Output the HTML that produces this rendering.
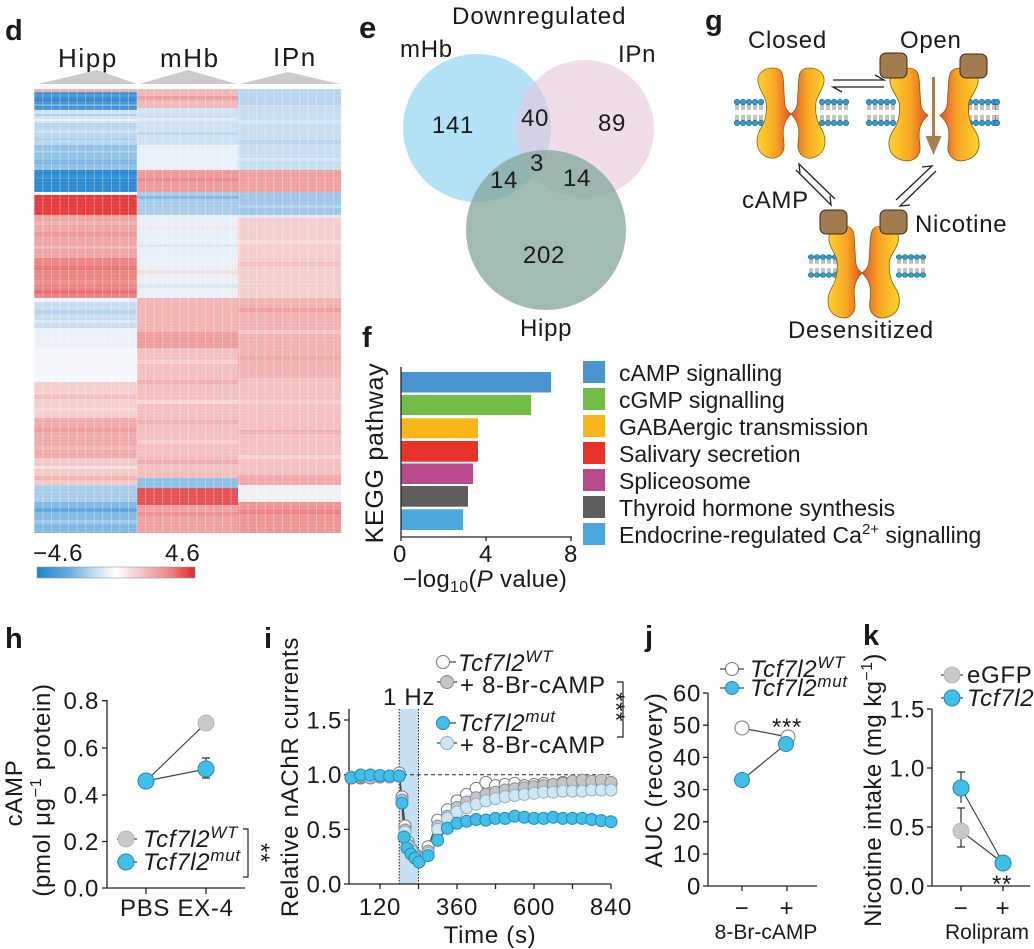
<!DOCTYPE html>
<html><head><meta charset="utf-8">
<style>
html,body{margin:0;padding:0;background:#fff;}
svg{display:block;}
text{font-family:"Liberation Sans",Arial,sans-serif;fill:#1a1a1a;}
.t{font-size:24px;letter-spacing:0.7px;}
.lg{font-size:23px;}
.b{font-weight:bold;font-size:29px;}
.it{font-style:italic;}
.ax{stroke:#222;stroke-width:1.3;fill:none;}
.dl{stroke:#444;stroke-width:1.2;fill:none;}
.mw{fill:#fff;stroke:#777;stroke-width:1;}
.mg{fill:#c6c6c9;stroke:#8a8a8a;stroke-width:1;}
.ml{fill:#cfe6f3;stroke:#8db0c6;stroke-width:1;}
.mb{fill:#3fbfea;stroke:#2789b0;stroke-width:1;}
.mgs{fill:#c9c9cc;stroke:#b0b0b0;stroke-width:0.8;}
</style></head><body>
<svg width="1034" height="949" viewBox="0 0 1034 949" xmlns="http://www.w3.org/2000/svg">
<defs>
<linearGradient id="cb" x1="0" x2="1" y1="0" y2="0">
<stop offset="0" stop-color="#1b87cf"/><stop offset="0.2" stop-color="#68acdd"/><stop offset="0.4" stop-color="#d5e7f4"/><stop offset="0.5" stop-color="#ffffff"/><stop offset="0.65" stop-color="#f4c8c8"/><stop offset="0.85" stop-color="#ec8282"/><stop offset="1" stop-color="#df272b"/>
</linearGradient>
<pattern id="cols" x="34" y="0" width="8.55" height="10" patternUnits="userSpaceOnUse">
<rect x="0" y="0" width="0.7" height="10" fill="#fff"/>
</pattern>
<pattern id="rows" x="0" y="89" width="10" height="3.3" patternUnits="userSpaceOnUse">
<rect x="0" y="0" width="10" height="0.4" fill="#fff"/>
</pattern>
<linearGradient id="chg" x1="0" x2="1" y1="0" y2="0">
<stop offset="0" stop-color="#fdd52c"/><stop offset="0.55" stop-color="#f7a523"/><stop offset="1" stop-color="#e6502b"/>
</linearGradient>
<path id="sub" fill="url(#chg)" stroke="#8a6410" stroke-width="0.8" d="M -18 0 C -28 0, -34 6, -33 14 C -32 22, -26 28, -25 34 C -24 42, -25 52, -30 60 C -36 70, -36 84, -24 89 C -14 93, -6 86, -7 76 C -8 66, -10 56, 0 46 C -8 40, -6 34, -7 24 C -8 10, -6 0, -18 0 Z"/>
<g id="lu">
<g stroke="#333" stroke-width="0.6"><line x1="-1" y1="2" x2="-1" y2="8"/><line x1="1" y1="2" x2="1" y2="8"/><line x1="-1" y1="13" x2="-1" y2="19"/><line x1="1" y1="13" x2="1" y2="19"/></g>
<circle cx="0" cy="0" r="2.7" fill="#2aa0d2" stroke="#155a7a" stroke-width="0.6"/><circle cx="0" cy="21" r="2.7" fill="#2aa0d2" stroke="#155a7a" stroke-width="0.6"/>
</g>
<g id="l5"><use href="#lu" x="0"/><use href="#lu" x="6"/><use href="#lu" x="12"/><use href="#lu" x="18"/><use href="#lu" x="24"/></g>
</defs>
<rect width="1034" height="949" fill="#fff"/>

<!-- ===== Panel d: heatmap ===== -->
<text class="b" x="5" y="40">d</text>
<text class="t" x="58" y="67" style="font-size:26px;letter-spacing:1.6px">Hipp</text>
<text class="t" x="160" y="67" style="font-size:26px;letter-spacing:1.6px">mHb</text>
<text class="t" x="273" y="66" style="font-size:26px;letter-spacing:1.6px">IPn</text>
<polygon points="38,84 97,70 137,84" fill="#cbcbcb"/>
<polygon points="139,84 188,70 237,84" fill="#cbcbcb"/>
<polygon points="240,84 288,72 340,84" fill="#cbcbcb"/>
<g>
<!-- Hipp x 34-137 -->
<g transform="translate(34,0)">
<rect y="89" width="103" height="3" fill="#eab0b4"/>
<rect y="92" width="103" height="18" fill="#4595d4"/>
<rect y="98" width="103" height="3" fill="#2f88cf"/>
<rect y="104" width="103" height="2" fill="#6aaedf"/>
<rect y="110" width="103" height="13" fill="#d0e3f2"/>
<rect y="114" width="103" height="2" fill="#a8cdea"/>
<rect y="119" width="103" height="2" fill="#eef3f8"/>
<rect y="123" width="103" height="22" fill="#b8d6ee"/>
<rect y="130" width="103" height="3" fill="#cbe0f1"/>
<rect y="138" width="103" height="2" fill="#a6cbea"/>
<rect y="145" width="103" height="25" fill="#8fc0e6"/>
<rect y="150" width="103" height="3" fill="#a2cbea"/>
<rect y="160" width="103" height="4" fill="#7db5e2"/>
<rect y="170" width="103" height="22" fill="#2a8ad0"/>
<rect y="176" width="103" height="3" fill="#3b93d4"/>
<rect y="192" width="103" height="3" fill="#f4f6f9"/>
<rect y="195" width="103" height="20" fill="#e63a3c"/>
<rect y="215" width="103" height="43" fill="#f0a4a4"/>
<rect y="222" width="103" height="3" fill="#f3b4b4"/>
<rect y="232" width="103" height="4" fill="#ee9898"/>
<rect y="246" width="103" height="3" fill="#f4b8b8"/>
<rect y="258" width="103" height="40" fill="#ec8484"/>
<rect y="266" width="103" height="4" fill="#e97474"/>
<rect y="280" width="103" height="4" fill="#ee8e8e"/>
<rect y="290" width="103" height="4" fill="#e86c6c"/>
<rect y="298" width="103" height="4" fill="#eef2f8"/>
<rect y="302" width="103" height="26" fill="#c8def0"/>
<rect y="310" width="103" height="4" fill="#b4d3ec"/>
<rect y="320" width="103" height="3" fill="#dce9f4"/>
<rect y="328" width="103" height="20" fill="#eaf1f8"/>
<rect y="348" width="103" height="34" fill="#f3f6fa"/>
<rect y="382" width="103" height="36" fill="#f5cece"/>
<rect y="395" width="103" height="4" fill="#f2bcbc"/>
<rect y="408" width="103" height="3" fill="#f7d8d8"/>
<rect y="418" width="103" height="40" fill="#f0aaaa"/>
<rect y="428" width="103" height="4" fill="#ee9c9c"/>
<rect y="446" width="103" height="4" fill="#f2b6b6"/>
<rect y="458" width="103" height="27" fill="#f4c8c8"/>
<rect y="466" width="103" height="3" fill="#f8e0e0"/>
<rect y="476" width="103" height="4" fill="#f0b0b0"/>
<rect y="485" width="103" height="17" fill="#a8cdea"/>
<rect y="502" width="103" height="31" fill="#80b9e3"/>
<rect y="508" width="103" height="4" fill="#5aa6dc"/>
<rect y="520" width="103" height="4" fill="#a0c8e8"/>
</g>
<!-- mHb x 137-238 -->
<g transform="translate(137,0)">
<rect y="89" width="101" height="19" fill="#f2b8b8"/>
<rect y="96" width="101" height="4" fill="#ee9e9e"/>
<rect y="108" width="101" height="37" fill="#cfe2f2"/>
<rect y="118" width="101" height="3" fill="#e0ecf6"/>
<rect y="132" width="101" height="3" fill="#bcd8ef"/>
<rect y="145" width="101" height="25" fill="#e8f0f8"/>
<rect y="170" width="101" height="22" fill="#ee9a9a"/>
<rect y="178" width="101" height="3" fill="#e98888"/>
<rect y="192" width="101" height="23" fill="#a8cdea"/>
<rect y="196" width="101" height="3" fill="#7fb8e3"/>
<rect y="215" width="101" height="43" fill="#e8eff7"/>
<rect y="226" width="101" height="3" fill="#f2e8ec"/>
<rect y="244" width="101" height="3" fill="#d8e7f4"/>
<rect y="258" width="101" height="40" fill="#ebeff6"/>
<rect y="270" width="101" height="4" fill="#f4dede"/>
<rect y="284" width="101" height="4" fill="#d6e6f4"/>
<rect y="298" width="101" height="34" fill="#f2b4b4"/>
<rect y="332" width="101" height="16" fill="#ee9c9c"/>
<rect y="348" width="101" height="130" fill="#f3bebe"/>
<rect y="360" width="101" height="4" fill="#f6d0d0"/>
<rect y="380" width="101" height="4" fill="#f0aeae"/>
<rect y="400" width="101" height="4" fill="#f7d6d6"/>
<rect y="420" width="101" height="4" fill="#f0b0b0"/>
<rect y="440" width="101" height="4" fill="#f6d0d0"/>
<rect y="460" width="101" height="4" fill="#efacac"/>
<rect y="478" width="101" height="10" fill="#8cc0e6"/>
<rect y="488" width="101" height="17" fill="#e65050"/>
<rect y="505" width="101" height="28" fill="#f0a0a0"/>
<rect y="512" width="101" height="4" fill="#ec8e8e"/>
</g>
<!-- IPn x 238-341 -->
<g transform="translate(238,0)">
<rect y="89" width="103" height="16" fill="#b8d4ee"/>
<rect y="105" width="103" height="65" fill="#c8ddf0"/>
<rect y="120" width="103" height="4" fill="#d6e6f4"/>
<rect y="140" width="103" height="4" fill="#b8d5ee"/>
<rect y="158" width="103" height="3" fill="#d8e7f4"/>
<rect y="170" width="103" height="22" fill="#f0a0a0"/>
<rect y="192" width="103" height="23" fill="#a0c6e8"/>
<rect y="205" width="103" height="3" fill="#b6d4ed"/>
<rect y="215" width="103" height="83" fill="#f3cece"/>
<rect y="215" width="103" height="3" fill="#e4e8f2"/>
<rect y="240" width="103" height="4" fill="#f6dada"/>
<rect y="262" width="103" height="4" fill="#f1c0c0"/>
<rect y="298" width="103" height="80" fill="#f1b2b2"/>
<rect y="308" width="103" height="4" fill="#ee9e9e"/>
<rect y="330" width="103" height="4" fill="#f4c4c4"/>
<rect y="356" width="103" height="4" fill="#efa8a8"/>
<rect y="378" width="103" height="97" fill="#f3c0c0"/>
<rect y="400" width="103" height="4" fill="#f5cccc"/>
<rect y="430" width="103" height="4" fill="#f0b0b0"/>
<rect y="455" width="103" height="4" fill="#f6d2d2"/>
<rect y="475" width="103" height="10" fill="#f0a8a8"/>
<rect y="485" width="103" height="17" fill="#eef0f6"/>
<rect y="502" width="103" height="31" fill="#ee9494"/>
<rect y="510" width="103" height="4" fill="#ea8080"/>
</g>
<rect x="34" y="89" width="307" height="444" fill="url(#cols)" opacity="0.45"/>
<rect x="34" y="89" width="307" height="444" fill="url(#rows)" opacity="0.2"/>
</g>
<text class="t" x="33" y="561">−4.6</text>
<text class="t" x="165" y="561">4.6</text>
<rect x="37" y="567" width="158" height="11" fill="url(#cb)" stroke="#8a9aaa" stroke-width="0.6"/>

<!-- ===== Panel e: Venn ===== -->
<text class="b" x="359" y="38" style="font-size:31px">e</text>
<text class="t" x="452" y="24" style="letter-spacing:1px">Downregulated</text>
<text class="t" x="400" y="57">mHb</text>
<text class="t" x="618" y="62">IPn</text>
<circle cx="477" cy="128" r="74" fill="#b3e1f6"/>
<circle cx="585" cy="129" r="69" fill="#e6c6da" opacity="0.6"/>
<circle cx="546" cy="230" r="80" fill="#83a599" opacity="0.75"/>
<g class="t" text-anchor="middle">
<text x="453" y="133">141</text>
<text x="535" y="126">40</text>
<text x="612" y="131">89</text>
<text x="537" y="171">3</text>
<text x="504" y="188">14</text>
<text x="577" y="186">14</text>
<text x="544" y="263">202</text>
</g>
<text class="t" x="520" y="336">Hipp</text>

<!-- ===== Panel g: schematic ===== -->
<text class="b" x="705" y="30">g</text>
<text class="t" x="748" y="48">Closed</text>
<text class="t" x="900" y="48">Open</text>
<text class="t" x="742" y="208">cAMP</text>
<text class="t" x="915" y="232">Nicotine</text>
<text class="t" x="788" y="338">Desensitized</text>
<use href="#l5" transform="translate(737,102)"/>
<use href="#l5" transform="translate(822,102)"/>
<use href="#l5" transform="translate(869,102)"/>
<use href="#l5" transform="translate(970,102)"/>
<use href="#lu" transform="translate(997,102)"/>
<use href="#l5" transform="translate(811,257) scale(1,0.86)"/>
<use href="#l5" transform="translate(899,257) scale(1,0.86)"/>
<use href="#sub" transform="translate(791,68)"/>
<use href="#sub" transform="translate(791,68) scale(-1,1)"/>
<use href="#sub" transform="translate(928,68) scale(1.15,1.03)"/>
<use href="#sub" transform="translate(940,68) scale(-1.15,1.03)"/>
<rect x="880" y="53" width="27" height="25" rx="6" fill="#a27b4f" stroke="#3a2a10" stroke-width="1"/>
<rect x="960" y="54" width="27" height="24" rx="6" fill="#a27b4f" stroke="#3a2a10" stroke-width="1"/>
<line x1="933.5" y1="77" x2="933.5" y2="140" stroke="#a8804f" stroke-width="3"/>
<polygon points="925.5,136 941.5,136 933.5,155" fill="#a8804f"/>
<use href="#sub" transform="translate(862,226) scale(1,1.02)"/>
<use href="#sub" transform="translate(862,226) scale(-1.1,1.02)"/>
<rect x="820" y="210" width="27" height="24" rx="6" fill="#a27b4f" stroke="#3a2a10" stroke-width="1"/>
<rect x="880" y="210" width="27" height="24" rx="6" fill="#a27b4f" stroke="#3a2a10" stroke-width="1"/>
<g stroke="#222" stroke-width="1.3" fill="none">
<path d="M833 80 L884 80 L875 75"/>
<path d="M884 87 L833 87 L842 92"/>
<path d="M835 199 L799 164 L800 173"/>
<path d="M796 170 L831 205 L830 196"/>
<path d="M896 200 L932 166 L922 167"/>
<path d="M936 171 L900 206 L910 205"/>
</g>

<!-- ===== Panel f: KEGG ===== -->
<text class="b" x="362" y="347">f</text>
<rect x="401" y="372" width="150" height="20.5" fill="#4a94d0"/>
<rect x="401" y="395" width="130" height="20" fill="#72bd45"/>
<rect x="401" y="418.3" width="77" height="20" fill="#f7b619"/>
<rect x="401" y="441" width="77" height="20.7" fill="#e83328"/>
<rect x="401" y="463.5" width="72" height="20.5" fill="#b94b8c"/>
<rect x="401" y="486" width="67" height="20.7" fill="#5e5e5e"/>
<rect x="401" y="509.3" width="62" height="20.7" fill="#4aa8de"/>
<path class="ax" d="M401 367 L401 537 L572 537 M401 537 L401 541 M486 537 L486 541 M571 537 L571 541"/>
<g class="t" text-anchor="middle">
<text x="400" y="562">0</text><text x="486" y="562">4</text><text x="571" y="562">8</text>
</g>
<text class="t" x="485" y="587" text-anchor="middle" style="letter-spacing:0.3px">−log<tspan font-size="16" dy="5">10</tspan><tspan dy="-5">(</tspan><tspan font-style="italic">P</tspan> value)</text>
<text class="t" transform="translate(383,453) rotate(-90)" text-anchor="middle" style="font-size:25px">KEGG pathway</text>
<rect x="583" y="361" width="22" height="22" fill="#4a94d0"/>
<rect x="583" y="388" width="22" height="22" fill="#72bd45"/>
<rect x="583" y="415" width="22" height="22" fill="#f7b619"/>
<rect x="583" y="442" width="22" height="22" fill="#e83328"/>
<rect x="583" y="469" width="22" height="22" fill="#b94b8c"/>
<rect x="583" y="496" width="22" height="22" fill="#5e5e5e"/>
<rect x="583" y="523" width="22" height="22" fill="#4aa8de"/>
<g class="lg">
<text x="619" y="381">cAMP signalling</text>
<text x="619" y="408">cGMP signalling</text>
<text x="619" y="435">GABAergic transmission</text>
<text x="619" y="462">Salivary secretion</text>
<text x="619" y="489">Spliceosome</text>
<text x="619" y="516">Thyroid hormone synthesis</text>
<text x="619" y="543">Endocrine-regulated Ca<tspan font-size="15" dy="-9">2+</tspan><tspan dy="9"> signalling</tspan></text>
</g>

<!-- ===== Panel h ===== -->
<text class="b" x="5" y="648">h</text>
<path class="ax" d="M107 700 L107 888 L245 888 M102 700.7 L107 700.7 M102 748 L107 748 M102 795 L107 795 M102 841.5 L107 841.5 M102 888 L107 888 M146 888 L146 894 M206 888 L206 894"/>
<g class="t" text-anchor="end">
<text x="99" y="709">0.8</text><text x="99" y="756.5">0.6</text><text x="99" y="803.5">0.4</text><text x="99" y="850">0.2</text><text x="99" y="896.5">0.0</text>
</g>
<text class="t" transform="translate(22,793) rotate(-90)" text-anchor="middle">cAMP</text>
<text class="t" transform="translate(50,790) rotate(-90)" text-anchor="middle">(pmol μg<tspan font-size="16" dy="-9">−1</tspan><tspan dy="9"> protein)</tspan></text>
<text class="t" x="120" y="916">PBS EX-4</text>
<line class="dl" x1="146" y1="781" x2="206" y2="723"/>
<line class="dl" x1="146" y1="781" x2="206" y2="769"/>
<path d="M206 758 L206 778 M202 758 L210 758 M202 778 L210 778" stroke="#333" stroke-width="1.2"/>
<circle class="mgs" cx="206" cy="723" r="8"/>
<circle class="mb" cx="206" cy="769" r="8"/>
<circle class="mb" cx="146" cy="781" r="8"/>
<line class="dl" x1="117" y1="839" x2="137" y2="839"/>
<circle class="mgs" cx="126" cy="839" r="8"/>
<line class="dl" x1="117" y1="862" x2="137" y2="862"/>
<circle class="mb" cx="126" cy="862" r="8"/>
<text class="t it" x="143" y="847">Tcf7l2<tspan font-size="17" dy="-9">WT</tspan></text>
<text class="t it" x="143" y="870">Tcf7l2<tspan font-size="17" dy="-9">mut</tspan></text>
<path d="M243 829 L248 829 L248 877 L243 877" stroke="#222" stroke-width="1.2" fill="none"/>
<text class="t" transform="translate(253,853) rotate(90)" text-anchor="middle">**</text>

<!-- ===== Panel i ===== -->
<text class="b" x="264" y="648">i</text>
<rect x="399.2" y="709" width="19.3" height="175" fill="#c6e0f1"/>
<path d="M399.2 709 L399.2 884 M418.5 709 L418.5 884" stroke="#222" stroke-width="1" stroke-dasharray="1.5,1.5"/>
<line x1="403" y1="774.7" x2="611" y2="774.7" stroke="#222" stroke-width="1" stroke-dasharray="4,3"/>
<path class="ax" d="M349 709 L349 884 L611 884 M344 720 L349 720 M344 774.7 L349 774.7 M344 829.4 L349 829.4 M344 884 L349 884 M380 884 L380 889 M418.5 884 L418.5 889 M457 884 L457 889 M495.5 884 L495.5 889 M534 884 L534 889 M572.5 884 L572.5 889 M611 884 L611 889"/>
<g class="t" text-anchor="end">
<text x="342" y="728.5">1.5</text><text x="342" y="783">1.0</text><text x="342" y="838">0.5</text><text x="342" y="892.5">0.0</text>
</g>
<g class="t" text-anchor="middle">
<text x="380" y="915">120</text><text x="457" y="915">360</text><text x="534" y="915">600</text><text x="611" y="915">840</text>
</g>
<text class="t" x="490" y="943" text-anchor="middle">Time (s)</text>
<text class="t" transform="translate(298,777) rotate(-90)" text-anchor="middle">Relative nAChR currents</text>
<text class="t" x="383" y="705">1 Hz</text>
<g class="dl" stroke-width="0.9">
<polyline points="351.1,777 360.7,778 370.4,777 380,777 389.6,777 399.2,774 402,797 405,826 408,842 412,850 416,855 420,858 428.1,846.8 437.7,820.1 447.4,809.7 457,800.9 466.6,794.4 476.2,788.4 485.9,782.4 495.5,785.6 505.1,784.5 514.7,783.4 524.4,785.6 534,784.5 543.6,783.4 553.2,784.5 562.9,782.4 572.5,783.4 582.1,782.4 591.7,783.4 601.3,782.4 611,783.4"/>
<polyline points="351.1,778 360.7,777 370.4,778 380,777 389.6,777 399.2,776 402,800 405,830 408,845 412,852 416,856 420,859 428.1,851.2 437.7,826.1 447.4,816.2 457,807.5 466.6,802 476.2,797.7 485.9,794.4 495.5,792.2 505.1,790 514.7,788.9 524.4,787.8 534,786.7 543.6,785.6 553.2,784.5 562.9,783.4 572.5,781.3 582.1,780.2 591.7,781.3 601.3,780.2 611,782.4"/>
<polyline points="402,803 404,837 407,848 411,854 415,858 419,862 428.1,855.6 437.7,840.3 447.4,828.3 457,823.3 466.6,821.2 476.2,819.5 485.9,820.1 495.5,818.4 505.1,818.4 514.7,816.2 524.4,817.3 534,818.4 543.6,818.4 553.2,817.3 562.9,818.4 572.5,818.4 582.1,818.4 591.7,819.5 601.3,820.6 611,821.7"/>
</g>
<g class="mw">
<circle cx="351.1" cy="777" r="6"/><circle cx="360.7" cy="778" r="6"/><circle cx="370.4" cy="777" r="6"/><circle cx="380" cy="777" r="6"/><circle cx="389.6" cy="777" r="6"/><circle cx="399.2" cy="773" r="6"/>
<circle cx="402" cy="797" r="6"/><circle cx="405" cy="826" r="6"/><circle cx="408" cy="842" r="6"/><circle cx="412" cy="850" r="6"/><circle cx="416" cy="855" r="6"/><circle cx="420" cy="858" r="6"/>
<circle cx="428.1" cy="846.8" r="6"/><circle cx="437.7" cy="820.1" r="6"/><circle cx="447.4" cy="809.7" r="6"/><circle cx="457" cy="800.9" r="6"/><circle cx="466.6" cy="794.4" r="6"/><circle cx="476.2" cy="788.4" r="6"/><circle cx="485.9" cy="782.4" r="6"/><circle cx="495.5" cy="785.6" r="6"/><circle cx="505.1" cy="784.5" r="6"/><circle cx="514.7" cy="783.4" r="6"/><circle cx="524.4" cy="785.6" r="6"/><circle cx="534" cy="784.5" r="6"/><circle cx="543.6" cy="783.4" r="6"/><circle cx="553.2" cy="784.5" r="6"/><circle cx="562.9" cy="782.4" r="6"/><circle cx="572.5" cy="783.4" r="6"/><circle cx="582.1" cy="782.4" r="6"/><circle cx="591.7" cy="783.4" r="6"/><circle cx="601.3" cy="782.4" r="6"/><circle cx="611" cy="783.4" r="6"/>
</g>
<g class="mg">
<circle cx="351.1" cy="778" r="6"/><circle cx="360.7" cy="777" r="6"/><circle cx="370.4" cy="778" r="6"/><circle cx="380" cy="777" r="6"/><circle cx="389.6" cy="777" r="6"/><circle cx="399.2" cy="776" r="6"/>
<circle cx="402" cy="800" r="6"/><circle cx="405" cy="830" r="6"/><circle cx="408" cy="845" r="6"/><circle cx="412" cy="852" r="6"/><circle cx="416" cy="856" r="6"/><circle cx="420" cy="859" r="6"/>
<circle cx="428.1" cy="851.2" r="6"/><circle cx="437.7" cy="826.1" r="6"/><circle cx="447.4" cy="816.2" r="6"/><circle cx="457" cy="807.5" r="6"/><circle cx="466.6" cy="802" r="6"/><circle cx="476.2" cy="797.7" r="6"/><circle cx="485.9" cy="794.4" r="6"/><circle cx="495.5" cy="792.2" r="6"/><circle cx="505.1" cy="790" r="6"/><circle cx="514.7" cy="788.9" r="6"/><circle cx="524.4" cy="787.8" r="6"/><circle cx="534" cy="786.7" r="6"/><circle cx="543.6" cy="785.6" r="6"/><circle cx="553.2" cy="784.5" r="6"/><circle cx="562.9" cy="783.4" r="6"/><circle cx="572.5" cy="781.3" r="6"/><circle cx="582.1" cy="780.2" r="6"/><circle cx="591.7" cy="781.3" r="6"/><circle cx="601.3" cy="780.2" r="6"/><circle cx="611" cy="782.4" r="6"/>
</g>
<g class="ml">
<circle cx="351.1" cy="777" r="6"/><circle cx="360.7" cy="776" r="6"/><circle cx="370.4" cy="777" r="6"/><circle cx="380" cy="776" r="6"/><circle cx="389.6" cy="777" r="6"/><circle cx="399.2" cy="776" r="6"/>
<circle cx="402" cy="801" r="6"/><circle cx="405" cy="832" r="6"/><circle cx="408" cy="846" r="6"/><circle cx="412" cy="852" r="6"/><circle cx="416" cy="857" r="6"/><circle cx="420" cy="860" r="6"/>
<circle cx="428.1" cy="853.4" r="6"/><circle cx="437.7" cy="829.4" r="6"/><circle cx="447.4" cy="818.4" r="6"/><circle cx="457" cy="811.9" r="6"/><circle cx="466.6" cy="807.5" r="6"/><circle cx="476.2" cy="804.2" r="6"/><circle cx="485.9" cy="800.9" r="6"/><circle cx="495.5" cy="798.7" r="6"/><circle cx="505.1" cy="796.6" r="6"/><circle cx="514.7" cy="795.5" r="6"/><circle cx="524.4" cy="794.4" r="6"/><circle cx="534" cy="793.3" r="6"/><circle cx="543.6" cy="792.2" r="6"/><circle cx="553.2" cy="792.2" r="6"/><circle cx="562.9" cy="791.1" r="6"/><circle cx="572.5" cy="791.1" r="6"/><circle cx="582.1" cy="791.1" r="6"/><circle cx="591.7" cy="790" r="6"/><circle cx="601.3" cy="790" r="6"/><circle cx="611" cy="790" r="6"/>
</g>
<g stroke="#333" stroke-width="1">
<path d="M476.2 815 v9 M485.9 815.6 v9 M495.5 813.9 v9 M505.1 813.9 v9 M514.7 811.7 v9 M524.4 812.8 v9 M534 813.4 v10 M543.6 813.4 v10 M553.2 812.3 v10 M562.9 813.4 v10 M572.5 813.4 v10 M582.1 813.4 v10 M591.7 814.5 v10 M601.3 815.6 v10 M611 816.7 v10"/>
<path d="M473.2 815 h6 M473.2 824 h6 M482.9 815.6 h6 M482.9 824.6 h6 M492.5 813.9 h6 M492.5 822.9 h6 M502.1 813.9 h6 M502.1 822.9 h6 M511.7 811.7 h6 M511.7 820.7 h6 M521.4 812.8 h6 M521.4 821.8 h6 M531 813.4 h6 M531 823.4 h6 M540.6 813.4 h6 M540.6 823.4 h6 M550.2 812.3 h6 M550.2 822.3 h6 M559.9 813.4 h6 M559.9 823.4 h6 M569.5 813.4 h6 M569.5 823.4 h6 M579.1 813.4 h6 M579.1 823.4 h6 M588.7 814.5 h6 M588.7 824.5 h6 M598.3 815.6 h6 M598.3 825.6 h6 M608 816.7 h6 M608 826.7 h6"/>
</g>
<g class="mb">
<circle cx="351.1" cy="778" r="6"/><circle cx="360.7" cy="775" r="6"/><circle cx="370.4" cy="775" r="6"/><circle cx="380" cy="775.5" r="6"/><circle cx="389.6" cy="776" r="6"/><circle cx="399.2" cy="776" r="6"/>
<circle cx="402" cy="803" r="6"/><circle cx="404" cy="837" r="6"/><circle cx="407" cy="848" r="6"/><circle cx="411" cy="854" r="6"/><circle cx="415" cy="858" r="6"/><circle cx="419" cy="862" r="6"/>
<circle cx="428.1" cy="855.6" r="6"/><circle cx="437.7" cy="840.3" r="6"/><circle cx="447.4" cy="828.3" r="6"/><circle cx="457" cy="823.3" r="6"/><circle cx="466.6" cy="821.2" r="6"/><circle cx="476.2" cy="819.5" r="6"/><circle cx="485.9" cy="820.1" r="6"/><circle cx="495.5" cy="818.4" r="6"/><circle cx="505.1" cy="818.4" r="6"/><circle cx="514.7" cy="816.2" r="6"/><circle cx="524.4" cy="817.3" r="6"/><circle cx="534" cy="818.4" r="6"/><circle cx="543.6" cy="818.4" r="6"/><circle cx="553.2" cy="817.3" r="6"/><circle cx="562.9" cy="818.4" r="6"/><circle cx="572.5" cy="818.4" r="6"/><circle cx="582.1" cy="818.4" r="6"/><circle cx="591.7" cy="819.5" r="6"/><circle cx="601.3" cy="820.6" r="6"/><circle cx="611" cy="821.7" r="6"/>
</g>
<g class="dl" stroke-width="1">
<line x1="436" y1="662" x2="456" y2="662"/><line x1="437" y1="682" x2="457" y2="682"/>
<line x1="436" y1="723" x2="456" y2="723"/><line x1="437" y1="743" x2="457" y2="743"/>
</g>
<circle class="mw" cx="443" cy="662" r="6.5"/>
<circle class="mg" cx="447" cy="682" r="6.5"/>
<circle class="mb" cx="443" cy="723" r="6.5"/>
<circle class="ml" cx="447" cy="743" r="6.5"/>
<text class="t it" x="458" y="671">Tcf7l2<tspan font-size="17" dy="-9">WT</tspan></text>
<text class="t" x="460" y="693">+ 8-Br-cAMP</text>
<text class="t it" x="458" y="731">Tcf7l2<tspan font-size="17" dy="-9">mut</tspan></text>
<text class="t" x="460" y="753">+ 8-Br-cAMP</text>
<path d="M617 682 L623 682 L623 737 L617 737" stroke="#222" stroke-width="1.2" fill="none"/>
<text class="t" transform="translate(608,707) rotate(90)" text-anchor="middle">***</text>

<!-- ===== Panel j ===== -->
<text class="b" x="645" y="646">j</text>
<path class="ax" d="M708 693 L708 886 L817 886 M703 693 L708 693 M703 725.2 L708 725.2 M703 757.4 L708 757.4 M703 789.6 L708 789.6 M703 821.8 L708 821.8 M703 854 L708 854 M703 886 L708 886 M742 886 L742 891 M787 886 L787 891"/>
<g class="t" text-anchor="end">
<text x="701" y="701.5">60</text><text x="701" y="733.5">50</text><text x="701" y="765.5">40</text><text x="701" y="797.5">30</text><text x="701" y="830">20</text><text x="701" y="862">10</text><text x="701" y="894.5">0</text>
</g>
<g class="t" text-anchor="middle"><text x="742" y="916">−</text><text x="787" y="916">+</text></g>
<text x="766" y="939" text-anchor="middle" style="font-size:21px">8-Br-cAMP</text>
<text class="t" transform="translate(662,780) rotate(-90)" text-anchor="middle">AUC (recovery)</text>
<line class="dl" x1="742" y1="728" x2="788" y2="737"/>
<line class="dl" x1="742" y1="780" x2="786" y2="744"/>
<circle class="mw" cx="742" cy="728" r="7"/>
<circle class="mw" cx="788" cy="737" r="7"/>
<circle class="mb" cx="742" cy="780" r="7.5"/>
<circle class="mb" cx="786" cy="744" r="7.5"/>
<text class="t" x="787" y="735" text-anchor="middle">***</text>
<line class="dl" x1="720" y1="669" x2="744" y2="669"/>
<circle class="mw" cx="732" cy="669" r="6.5"/>
<line class="dl" x1="720" y1="688" x2="744" y2="688"/>
<circle class="mb" cx="732" cy="688" r="6.5"/>
<text class="t it" x="750" y="677">Tcf7l2<tspan font-size="17" dy="-9">WT</tspan></text>
<text class="t it" x="750" y="696">Tcf7l2<tspan font-size="17" dy="-9">mut</tspan></text>

<!-- ===== Panel k ===== -->
<text class="b" x="863" y="645">k</text>
<path class="ax" d="M932 709 L932 886 L1030 886 M927 709 L932 709 M927 768 L932 768 M927 827 L932 827 M927 886 L932 886 M961 886 L961 891 M1003 886 L1003 891"/>
<g class="t" text-anchor="end">
<text x="925" y="717.5">1.5</text><text x="925" y="776.5">1.0</text><text x="925" y="835.5">0.5</text><text x="925" y="894.5">0.0</text>
</g>
<g class="t" text-anchor="middle"><text x="961" y="916">−</text><text x="1003" y="916">+</text></g>
<text x="987" y="939" text-anchor="middle" style="font-size:21px">Rolipram</text>
<text class="t" transform="translate(881,790) rotate(-90)" text-anchor="middle" style="letter-spacing:0.4px">Nicotine intake (mg kg<tspan font-size="16" dy="-9">−1</tspan><tspan dy="9">)</tspan></text>
<line class="dl" x1="961" y1="831" x2="1003" y2="863"/>
<line class="dl" x1="961" y1="788" x2="1003" y2="863"/>
<path d="M961 808 L961 847 M957 808 L965 808 M957 847 L965 847 M961 772 L961 803 M957 772 L965 772" stroke="#333" stroke-width="1.2"/>
<circle class="mgs" cx="961" cy="831" r="8"/>
<circle class="mb" cx="961" cy="788" r="8"/>
<circle class="mb" cx="1003" cy="863" r="8"/>
<text class="t" x="1002" y="892" text-anchor="middle">**</text>
<line class="dl" x1="941" y1="675" x2="963" y2="675"/>
<circle class="mgs" cx="952" cy="675" r="8"/>
<line class="dl" x1="941" y1="698" x2="963" y2="698"/>
<circle class="mb" cx="952" cy="698" r="8"/>
<text class="t" x="967" y="683">eGFP</text>
<text class="t it" x="967" y="706">Tcf7l2</text>
</svg>
</body></html>
